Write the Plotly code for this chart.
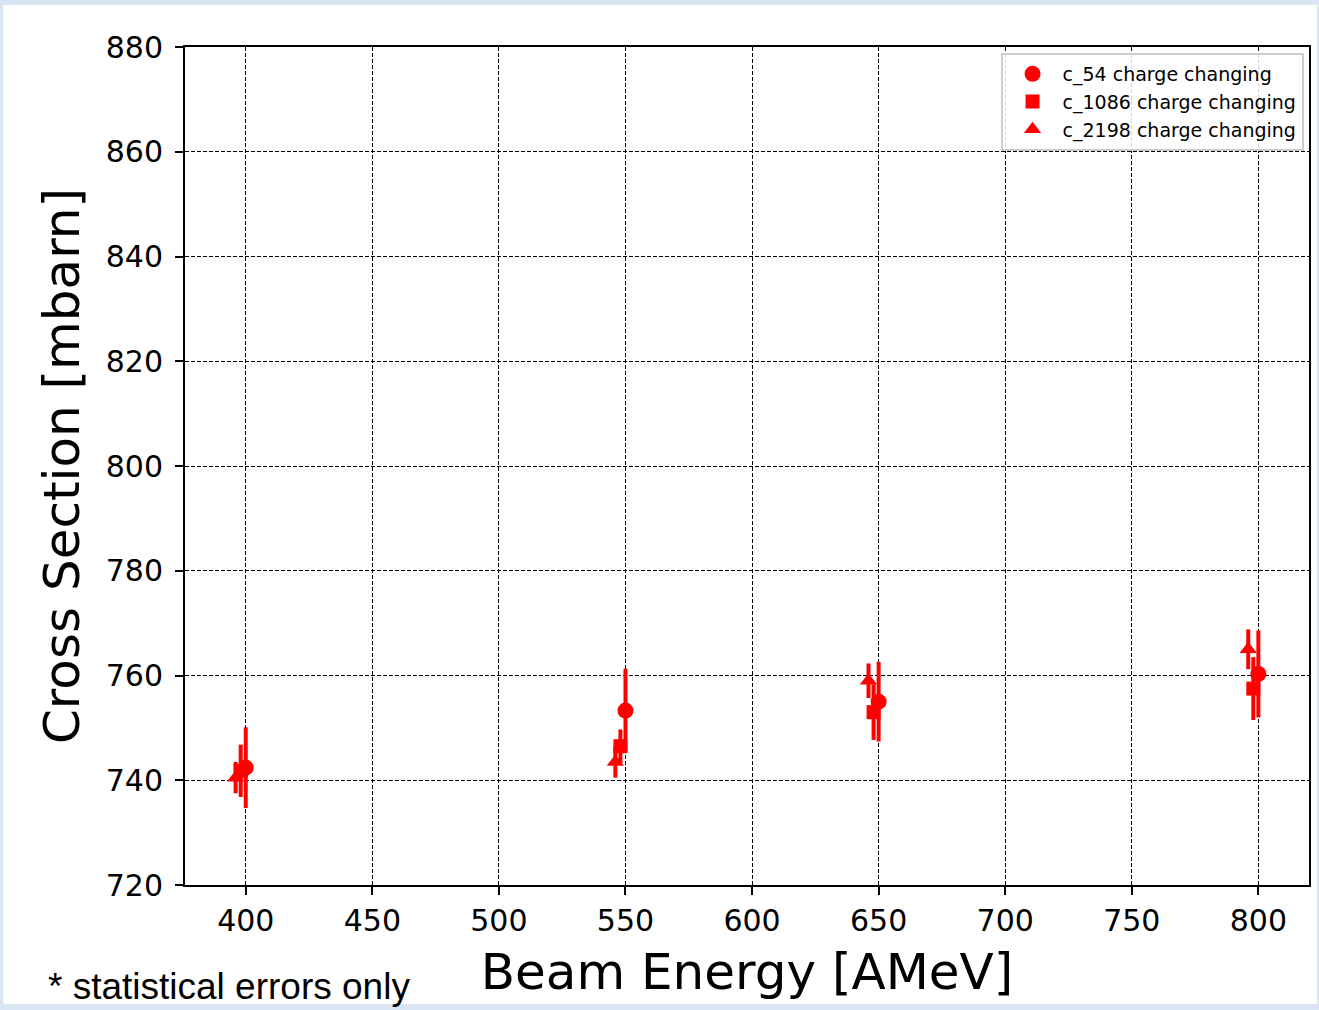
import plotly.graph_objects as go

# Beam energies (AMeV); the three selections are drawn slightly offset to the left
energies = [400, 550, 650, 800]
offset_c54 = 0
offset_c1086 = -2
offset_c2198 = -4

# Charge-changing cross sections (mbarn) and statistical errors
xs_c54 = [742.4, 753.3, 755.0, 760.3]
err_c54 = [7.7, 8.0, 7.6, 8.3]
xs_c1086 = [741.8, 746.5, 753.0, 757.5]
err_c1086 = [5.0, 3.2, 5.3, 6.0]
xs_c2198 = [740.5, 743.5, 759.0, 765.0]
err_c2198 = [3.0, 3.0, 3.3, 3.8]

series_names = ["c_54 charge changing", "c_1086 charge changing", "c_2198 charge changing"]

x_ticks = [400, 450, 500, 550, 600, 650, 700, 750, 800]
y_ticks = [720, 740, 760, 780, 800, 820, 840, 860, 880]

RED = "#ff0000"
FONT = "DejaVu Sans"

fig = go.Figure()

series = [
    (offset_c54, xs_c54, err_c54, "circle", 16, series_names[0]),
    (offset_c1086, xs_c1086, err_c1086, "square", 14, series_names[1]),
    (offset_c2198, xs_c2198, err_c2198, "triangle-up", 15, series_names[2]),
]
for off, vals, errs, sym, size, name in series:
    fig.add_trace(go.Scatter(
        x=[e + off for e in energies],
        y=vals,
        mode="markers",
        name=name,
        marker=dict(symbol=sym, size=size, color=RED, line=dict(width=0)),
        error_y=dict(type="data", array=errs, visible=True,
                     color=RED, thickness=4, width=0),
    ))

# page frame: light blue border around a white sheet
W, H = 1319, 1010
L, R, T, B = 185, 8, 47, 125
pw, ph = W - L - R, H - T - B


def px_x(p):
    return (p - L) / pw


def px_y(p):
    return (H - B - p) / ph


fig.add_shape(type="rect", xref="paper", yref="paper",
              x0=px_x(3), x1=px_x(1319), y0=px_y(1004), y1=px_y(5),
              fillcolor="white", line=dict(width=0), layer="below")

fig.add_annotation(text="* statistical errors only", xref="paper", yref="paper",
                   x=px_x(46), y=px_y(986), xanchor="left", yanchor="middle",
                   showarrow=False,
                   font=dict(family="Liberation Sans", size=37, color="black"))

axis_common = dict(
    showline=True, linecolor="black", linewidth=2, mirror=True,
    ticks="outside", ticklen=8, tickwidth=2, tickcolor="black",
    showgrid=True, gridcolor="black", gridwidth=1, griddash="4px,2px",
    zeroline=False,
    tickfont=dict(family=FONT, size=30, color="black"),
)

fig.update_layout(
    width=W, height=H,
    margin=dict(l=L, r=R, t=T, b=B),
    paper_bgcolor="#d9e5f2",
    plot_bgcolor="white",
    font=dict(family=FONT, color="black"),
    showlegend=True,
    legend=dict(
        x=px_x(1002), y=px_y(53), xanchor="left", yanchor="top",
        bgcolor="rgba(255,255,255,0.85)", bordercolor="#cccccc", borderwidth=2,
        font=dict(family=FONT, size=19, color="black"),
        itemwidth=50,
    ),
    xaxis=dict(
        range=[376, 820], tickvals=x_ticks,
        title=dict(text="Beam Energy [AMeV]", font=dict(family=FONT, size=50), standoff=17),
        **axis_common,
    ),
    yaxis=dict(
        range=[720, 880], tickvals=y_ticks, ticklabelstandoff=6,
        title=dict(text="Cross Section [mbarn]", font=dict(family=FONT, size=50), standoff=10),
        **axis_common,
    ),
)

fig.write_html("out.html")
